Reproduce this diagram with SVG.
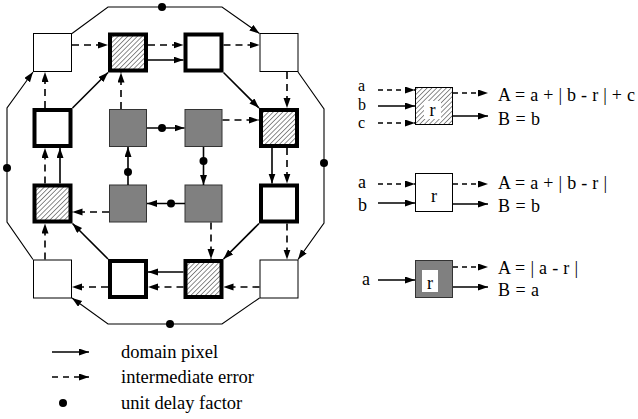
<svg xmlns="http://www.w3.org/2000/svg" width="638" height="419" viewBox="0 0 638 419">
  <defs>
    <marker id="ah" markerUnits="userSpaceOnUse" markerWidth="10" markerHeight="8" refX="10" refY="3.5" orient="auto">
      <path d="M0,0 L10,3.5 L0,7 z" fill="#000"/>
    </marker>
    <pattern id="hatch" patternUnits="userSpaceOnUse" width="3.4" height="3.4" patternTransform="rotate(45)">
      <rect width="3.4" height="3.4" fill="#fff"/>
      <line x1="0" y1="0" x2="0" y2="3.4" stroke="#000" stroke-width="0.9"/>
    </pattern>
  </defs>
  <style>
    .thin { fill: #fff; stroke: #000; stroke-width: 1; }
    .thick { fill: #fff; stroke: #000; stroke-width: 4; }
    .hat { fill: url(#hatch); stroke: #000; stroke-width: 4; }
    .hatthin { fill: url(#hatch); stroke: #000; stroke-width: 1; }
    .gray { fill: #808080; stroke: #333; stroke-width: 1; }
    .s { fill: none; stroke: #000; stroke-width: 1.6; marker-end: url(#ah); }
    .d { fill: none; stroke: #000; stroke-width: 1.6; stroke-dasharray: 7 5; marker-end: url(#ah); }
    .dl { stroke-dasharray: 5 4; }
    .ringa { fill: none; stroke: #000; stroke-width: 1.1; marker-end: url(#ah); }
    .dot { fill: #000; }
    text { font-family: "Liberation Serif", "Times New Roman", serif; fill: #000; }
    .eq { font-size: 18px; }
    .in { font-size: 16px; }
    .lg { font-size: 18.5px; }
  </style>

  <!-- processor array: row 0 -->
  <g id="n00"><rect class="thin" x="33.5" y="33.5" width="38" height="38"/></g>
  <g id="n01"><rect class="hat" x="110" y="34.5" width="36" height="36"/></g>
  <g id="n02"><rect class="thick" x="185.5" y="34.5" width="36" height="36"/></g>
  <g id="n03"><rect class="thin" x="260" y="33.5" width="38" height="38"/></g>
  <!-- row 1 -->
  <g id="n10"><rect class="thick" x="34.5" y="110" width="36" height="36"/></g>
  <g id="n11"><rect class="gray" x="109.5" y="109.5" width="37" height="37"/></g>
  <g id="n12"><rect class="gray" x="185" y="109.5" width="37" height="37"/></g>
  <g id="n13"><rect class="hat" x="261" y="110" width="36" height="36"/></g>
  <!-- row 2 -->
  <g id="n20"><rect class="hat" x="34.5" y="185.5" width="36" height="36"/></g>
  <g id="n21"><rect class="gray" x="109.5" y="185" width="37" height="37"/></g>
  <g id="n22"><rect class="gray" x="185" y="185" width="37" height="37"/></g>
  <g id="n23"><rect class="thick" x="261" y="185.5" width="36" height="36"/></g>
  <!-- row 3 -->
  <g id="n30"><rect class="thin" x="33.5" y="260" width="38" height="38"/></g>
  <g id="n31"><rect class="thick" x="110" y="261" width="36" height="36"/></g>
  <g id="n32"><rect class="hat" x="185.5" y="261" width="36" height="36"/></g>
  <g id="n33"><rect class="thin" x="260" y="260" width="38" height="38"/></g>

  <g id="connectors">
    <!-- outer ring with delays -->
    <path class="ringa" d="M72,33.5 L108,7 L222,7 L259.5,33.5"/>
    <path class="ringa" d="M298,72 L324,109 L324,223 L298,259.5"/>
    <path class="ringa" d="M259.5,298 L222,324 L108,324 L72,298"/>
    <path class="ringa" d="M33,259.5 L7,222 L7,108 L33,72"/>
    <circle class="dot" cx="162" cy="7" r="4"/>
    <circle class="dot" cx="324" cy="163" r="4"/>
    <circle class="dot" cx="170" cy="324" r="4"/>
    <circle class="dot" cx="7" cy="168" r="4"/>

    <!-- row 0 -->
    <path class="d" d="M72,45 H108"/>
    <path class="d" d="M148,45 H183.5"/>
    <path class="s" d="M148,60 H183.5"/>
    <path class="d" d="M223.5,45 H259.5"/>
    <!-- row 1 -->
    <path class="s" d="M147,128 H184.5"/>
    <circle class="dot" cx="162" cy="128" r="4"/>
    <path class="d" d="M222.5,120 H259"/>
    <!-- row 2 -->
    <path class="s" d="M185,203.5 H147"/>
    <circle class="dot" cx="171" cy="203.5" r="4"/>
    <path class="d" d="M109,212 H72.5"/>
    <!-- row 3 -->
    <path class="d" d="M259.5,287 H223.5"/>
    <path class="s" d="M183.5,272 H148"/>
    <path class="d" d="M183.5,287 H148"/>
    <path class="d" d="M108,287 H72"/>

    <!-- column 0 -->
    <path class="d" d="M45,259.5 V223.5"/>
    <path class="d" d="M45,183.5 V148"/>
    <path class="s" d="M60,183.5 V148"/>
    <path class="d" d="M45,108 V72"/>
    <!-- column 1 -->
    <path class="d" d="M121,109 V72.5"/>
    <path class="s" d="M128,185 V147"/>
    <circle class="dot" cx="128" cy="172" r="4"/>
    <!-- column 2 -->
    <path class="s" d="M203.5,147 V185"/>
    <circle class="dot" cx="203.5" cy="161" r="4"/>
    <path class="d" d="M211,222.5 V259"/>
    <!-- column 3 -->
    <path class="d" d="M287,72 V108"/>
    <path class="s" d="M272,148 V183.5"/>
    <path class="d" d="M287,148 V183.5"/>
    <path class="d" d="M287,223.5 V259.5"/>

    <!-- diagonals -->
    <path class="s" d="M72.5,108 L108,72.5"/>
    <path class="s" d="M223.5,72.5 L259,108"/>
    <path class="s" d="M259,223.5 L223.5,259"/>
    <path class="s" d="M108,259 L72.5,223.5"/>
  </g>

  <!-- cell types -->
  <g id="cell-hatched">
    <rect class="hatthin" x="415.5" y="87.5" width="37" height="37"/>
    <rect x="424" y="101" width="17" height="18" fill="#fff"/>
    <text class="eq" x="432.5" y="116" text-anchor="middle">r</text>
    <text class="in" x="358" y="91">a</text>
    <text class="in" x="358" y="109.5">b</text>
    <text class="in" x="358" y="128">c</text>
    <path class="d dl" d="M378,90 H415"/>
    <path class="s" d="M378,106 H415"/>
    <path class="d dl" d="M378,123 H415"/>
    <path class="d dl" d="M453,93 H488"/>
    <path class="s" d="M453,116 H488"/>
    <text class="eq" x="498" y="101" textLength="137">A = a + | b - r | + c</text>
    <text class="eq" x="498" y="125" textLength="42">B = b</text>
  </g>

  <g id="cell-white">
    <rect class="thin" x="415.5" y="173.5" width="37" height="38"/>
    <text class="eq" x="434" y="202" text-anchor="middle">r</text>
    <text class="eq" x="358" y="188">a</text>
    <text class="eq" x="358" y="211">b</text>
    <path class="d dl" d="M378,184 H415"/>
    <path class="s" d="M378,203 H415"/>
    <path class="d dl" d="M453,184 H488"/>
    <path class="s" d="M453,204 H488"/>
    <text class="eq" x="498" y="189" textLength="109">A = a + | b - r |</text>
    <text class="eq" x="498" y="212" textLength="42">B = b</text>
  </g>

  <g id="cell-gray">
    <rect class="gray" x="415.5" y="260.5" width="37" height="37"/>
    <rect x="422" y="270" width="16" height="22" fill="#fff"/>
    <text class="eq" x="430" y="289" text-anchor="middle">r</text>
    <text class="eq" x="362" y="285">a</text>
    <path class="s" d="M378,280 H415"/>
    <path class="d dl" d="M453,267 H488"/>
    <path class="s" d="M453,287 H488"/>
    <text class="eq" x="498" y="274" textLength="80">A = | a - r |</text>
    <text class="eq" x="498" y="296" textLength="41">B = a</text>
  </g>

  <!-- key -->
  <g id="key">
    <path class="s" d="M52,352 H89"/>
    <path class="d" d="M52,377 H89" style="stroke-dasharray:6 5"/>
    <circle class="dot" cx="63" cy="403" r="4"/>
    <text class="lg" x="121" y="358">domain pixel</text>
    <text class="lg" x="121" y="383">intermediate error</text>
    <text class="lg" x="121" y="409">unit delay factor</text>
  </g>
</svg>
